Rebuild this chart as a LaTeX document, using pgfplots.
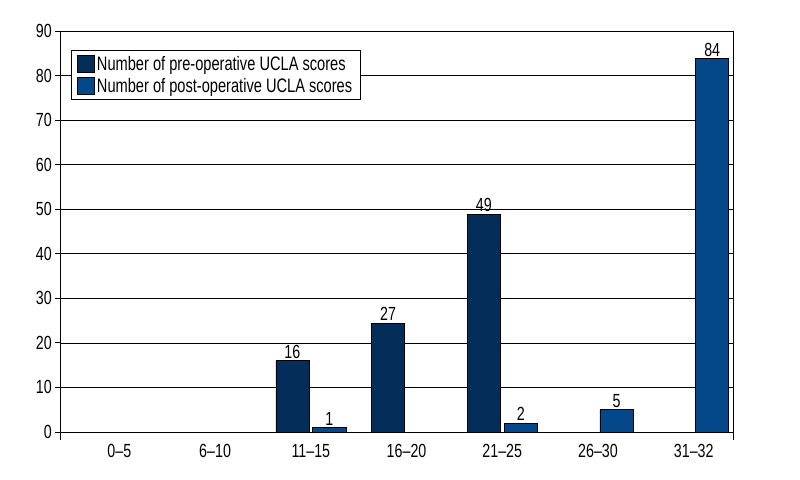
\documentclass[border=0pt]{standalone}
\usepackage{pgfplots}
\pgfplotsset{compat=1.18}
\usepackage{fontspec}
\setmainfont{Liberation Sans}[FakeStretch=0.75]
\definecolor{pre}{RGB}{5,45,90}
\definecolor{post}{RGB}{4,72,138}
\begin{document}
\begin{tikzpicture}
\useasboundingbox (-60bp,-48bp) rectangle (740bp,432bp);
\begin{axis}[
  at={(0,0)}, anchor=south west,
  scale only axis, width=673bp, height=401bp,
  xmin=-0.62, xmax=6.41, ymin=0, ymax=90,
  ytick={0,10,...,90},
  xtick={0,...,6},
  xticklabels={0--5,6--10,11--15,16--20,21--25,26--30,31--32},
  x tick label style={yshift=-4bp},
  major x tick style={draw=none},
  extra x ticks={-0.62,6.41}, extra x tick labels={},
  extra x tick style={major tick length=8bp, tick align=outside, major x tick style={draw=black, line width=0.8bp}},
  tick pos=left,
  major y tick style={draw=black, line width=0.8bp},
  ytick align=outside, major tick length=5bp,
  ymajorgrids, major grid style={black, line width=0.7bp},
  axis line style={line width=0.9bp},
  /pgf/number format/assume math mode=true,
  ticklabel style={font=\fontsize{19bp}{22bp}\selectfont},
  y tick label style={inner xsep=3bp},
  ybar, bar width=0.345,
  legend style={at={(0.0163,0.9526)}, anchor=north west, draw=black, line width=0.8bp,
    font=\fontsize{19.5bp}{22bp}\selectfont, inner xsep=6bp, inner ysep=4bp,
    row sep=2bp, cells={anchor=west}},
  legend image code/.code={\draw[#1, draw=black, line width=0.6bp] (0bp,-8.5bp) rectangle (17bp,8.5bp);},
  nodes near coords, point meta=explicit symbolic,
  nodes near coords style={font=\fontsize{19bp}{22bp}\selectfont, inner sep=2bp},
]
\addplot[fill=pre, draw=black, line width=0.6bp, bar shift=-0.193] coordinates {(2,16) [16] (3,24.4) [27] (4,48.9) [49]};
\addplot[fill=post, draw=black, line width=0.6bp, bar shift=0.193] coordinates {(2,1) [1] (4,2) [2] (5,5) [5] (6,83.8) [84]};
\legend{Number of pre-operative UCLA scores, Number of post-operative UCLA scores}
\end{axis}
\end{tikzpicture}
\end{document}
